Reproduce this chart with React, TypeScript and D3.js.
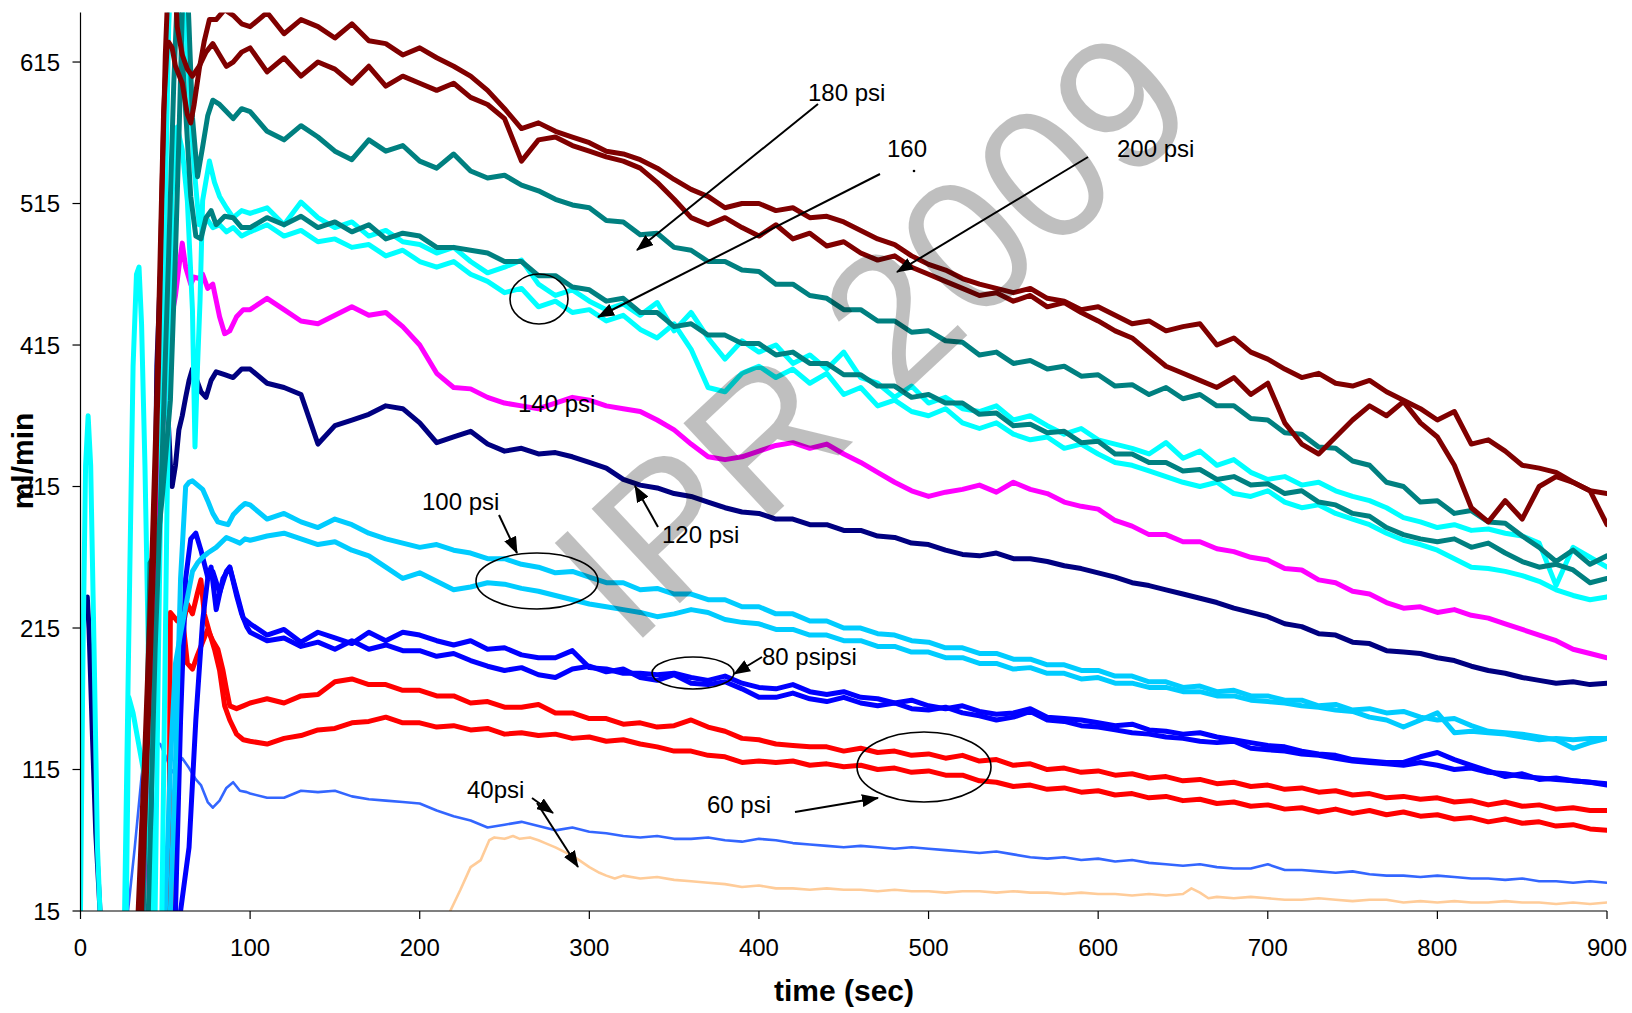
import React from "react";
import * as d3 from "d3";

const T0 = 100;
const STEP = 10;

const xTicks = [0, 100, 200, 300, 400, 500, 600, 700, 800, 900];
const yTicks = [15, 115, 215, 315, 415, 515, 615];

// ---- 200 psi (dark red) ----
const darkRedAEarly = [[32,-40],[34,15],[38,130],[42,260],[45,380],[47,480],[49,580],[51,625],[52,629],[54,625],[56,612],[60,600],[63,578],[65,572],[67,585],[70,610],[73,630],[76,645],[80,645],[85,652],[90,648],[95,642]];
const darkRedABody = [
  640,650,635,645,640,632,642,630,628,620,
  625,618,612,605,595,582,568,572,566,562,
  558,552,550,546,540,532,525,520,512,515,
  515,510,512,505,506,502,496,490,486,478,
  472,468,462,458,455,452,455,448,446,440,
  442,436,430,432,425,428,430,415,420,410,
  405,398,392,395,388,386,390,382,376,370,
  362,368,345,348,340,330,328,325,318,312,
  310];
const darkRedBEarly = [[34,-40],[36,15],[40,150],[43,260],[46,400],[48,520],[50,620],[52,680],[55,690],[57,640],[60,620],[63,610],[66,605],[70,612],[74,622],[78,628],[82,620],[86,612],[90,615],[95,622]];
const darkRedBBody = [
  625,608,618,605,615,610,600,612,598,605,
  600,595,600,590,585,575,545,560,562,556,
  552,548,545,540,530,518,505,500,505,498,
  492,500,490,494,485,488,480,475,478,470,
  465,460,455,450,452,446,450,442,445,438,
  432,425,420,410,400,395,390,385,392,380,
  388,360,345,338,350,362,372,365,375,360,
  350,330,300,290,305,292,315,322,318,312,
  288];

// ---- 180 psi (teal) ----
const tealAEarly = [[36,-40],[37,15],[41,261],[45,270],[48,305],[53,376],[56,480],[58,560],[60,650],[62,700],[64,640],[66,576],[69,534],[72,555],[75,577],[78,588],[82,585],[86,580],[90,575],[95,582]];
const tealABody = [
  580,566,560,570,562,552,546,560,552,556,
  545,540,550,538,533,535,528,524,518,514,
  512,503,502,493,494,484,482,474,474,468,
  467,458,458,450,448,440,440,432,432,424,
  425,418,417,408,410,402,404,398,400,393,
  394,386,387,380,385,377,380,372,372,363,
  362,353,352,343,342,333,330,318,315,304,
  305,296,298,290,289,280,272,262,270,260,
  266];
const tealBEarly = [[38,-40],[40,15],[44,200],[48,330],[52,480],[55,600],[57,660],[59,640],[62,580],[65,520],[68,492],[71,490],[74,505],[77,510],[80,500],[85,506],[90,505],[95,498]];
const tealBBody = [
  498,505,500,506,498,502,495,500,490,494,
  492,484,484,482,480,474,474,464,464,456,
  454,446,448,438,438,428,430,422,422,416,
  416,408,410,402,402,394,394,386,386,378,
  380,374,374,366,367,358,359,353,354,346,
  347,338,338,332,332,326,327,320,322,316,
  317,310,312,304,302,296,294,286,281,278,
  276,278,272,275,268,262,258,260,256,247,
  250];

// ---- 160 psi (cyan) ----
const cyanAEarly = [[0,15],[1.5,200],[3,330],[4.5,365],[6,330],[8,200],[10,60],[11.5,15],[13,-40],[24,-40],[26,15],[29,250],[31,400],[33,465],[34.5,470],[36,430],[38,330],[40,200],[42,60],[43,15],[44,-40],[46,-40],[48,15],[51,300],[54,520],[56,565],[57,569],[60,553],[63,517],[66,440],[67.5,343],[69,400],[70.5,447],[72,517],[76,545],[79,530],[82,520],[86,512],[90,505],[95,510]];
const cyanABody = [
  508,512,500,516,505,498,502,492,496,488,
  486,480,484,474,466,470,475,458,450,454,
  446,440,444,436,445,425,438,420,405,418,
  410,415,402,408,398,410,392,388,378,386,
  374,378,370,368,372,362,365,358,352,356,
  348,345,342,338,346,335,340,330,334,325,
  320,322,316,318,312,308,305,300,293,290,
  286,288,284,285,282,280,275,245,272,265,
  258];
const cyanBEarly = [[26,-40],[27,15],[28.5,166],[31,155],[34,135],[37,115],[39,90],[41,40],[42,15],[43,-40],[44,15],[46,200],[49,450],[52,640],[54,700],[58,700],[61,660],[64,600],[67,540],[70,500],[74,505],[78,498],[82,500],[86,495],[90,498],[95,492]];
const cyanBBody = [
  495,500,492,496,488,490,484,486,478,482,
  474,470,474,465,460,452,455,442,446,438,
  440,432,436,426,420,430,412,385,382,395,
  400,392,398,388,395,380,385,372,376,368,
  365,370,360,356,360,352,348,350,342,345,
  338,332,330,326,322,318,315,318,310,308,
  312,304,300,302,296,292,288,282,277,274,
  270,264,258,257,255,252,248,242,238,235,
  237];

// ---- 140 psi (magenta) ----
const magentaEarly = [[35,-40],[37,15],[41,150],[45,280],[49,370],[53,430],[56,450],[58,470],[60,487],[62,470],[65,458],[67,463],[70,462],[72,465],[75,455],[78,458],[82,435],[85,423],[88,425],[92,435],[96,440]];
const magentaBody = [
  440,448,440,432,430,436,442,436,438,428,
  415,395,385,384,378,374,372,370,374,378,
  376,372,370,368,362,355,345,336,334,336,
  340,344,346,342,345,338,332,325,318,312,
  308,311,313,316,311,318,313,310,304,301,
  299,291,287,281,281,276,276,271,269,265,
  263,257,256,249,247,241,239,233,229,230,
  226,228,224,222,218,214,210,206,200,197,
  194];

// ---- 120 psi (navy) ----
const navyEarly = [[4,237],[5,215],[7,140],[9,70],[11.5,15],[13,-40],[38,-40],[41,15],[43,200],[45,400],[47,463],[49,420],[51,380],[53,330],[54,315],[56,330],[58,355],[60,365],[62,378],[64,390],[66,398],[68,392],[71,382],[74,378],[77,390],[80,396],[85,394],[90,392],[95,398]];
const navyBody = [
  398,388,385,380,345,358,362,366,372,370,
  360,346,350,354,345,340,342,338,339,336,
  332,328,320,316,314,310,308,304,300,297,
  296,292,292,288,288,284,284,280,279,275,
  274,270,267,266,268,264,264,262,259,257,
  254,251,247,245,242,239,236,233,229,226,
  223,218,216,211,210,205,204,199,198,197,
  194,192,188,185,183,180,178,176,177,175,
  176];

// ---- 100 psi (sky blue) ----
const skyAEarly = [[50,-40],[53,15],[56,120],[59,250],[62,315],[64,318],[66,319],[69,316],[72,313],[75,305],[78,296],[81,290],[84,289],[87,288],[90,295],[94,300],[97,303]];
const skyABody = [
  302,292,296,290,286,292,288,282,278,275,
  272,274,270,268,264,264,260,258,254,255,
  251,247,247,242,243,239,239,235,235,230,
  230,225,225,220,220,215,215,211,210,206,
  205,201,201,197,197,193,193,189,189,185,
  185,181,181,177,177,173,174,170,171,167,
  167,164,164,160,161,157,158,155,156,152,
  150,151,146,142,141,140,138,136,130,134,
  137];
const skyBEarly = [[48,-40],[50,15],[53,120],[56,190],[59,211],[62,230],[66,255],[69,261],[72,265],[75,268],[80,272],[86,279],[90,277],[94,275],[97,278]];
const skyBBody = [
  277,280,282,278,274,276,270,266,258,250,
  254,248,242,244,247,246,243,241,238,235,
  232,230,228,226,223,225,228,226,221,219,
  218,214,214,210,210,206,206,202,202,198,
  198,194,194,190,190,186,187,183,183,179,
  180,176,176,173,173,170,170,167,167,164,
  163,162,160,159,157,156,152,150,145,150,
  155,141,142,141,140,138,136,137,136,137,
  137];

// ---- 80 psi (blue) ----
const blueAEarly = [[52,-40],[56,15],[59,150],[62,250],[65,278],[68,282],[71,270],[75,251],[77,258],[80,228],[84,250],[88,258],[92,240],[96,222]];
const blueABody = [
  218,210,214,205,212,208,204,212,206,212,
  210,206,203,206,200,201,196,194,194,199,
  187,186,183,183,182,183,180,178,181,176,
  173,172,175,170,168,170,166,165,162,164,
  160,158,160,156,154,155,158,152,151,150,
  148,146,147,143,142,140,141,138,136,134,
  132,131,128,126,125,122,121,120,120,124,
  127,122,118,114,110,112,108,109,107,106,
  105];
const blueBEarly = [[55,-40],[59,15],[64,60],[68,150],[72,220],[75,250],[78,255],[82,240],[86,255],[88,258],[92,238],[95,225],[98,216]];
const blueBBody = [
  212,206,208,202,205,200,206,200,203,199,
  199,195,197,192,188,185,187,182,180,186,
  188,184,186,180,178,182,176,175,177,172,
  166,166,169,165,163,166,162,160,162,158,
  157,159,155,153,150,152,156,150,149,146,
  145,143,141,140,138,137,135,134,135,130,
  129,128,126,125,123,121,120,119,118,120,
  118,115,116,113,112,110,109,108,107,106,
  104];

// ---- 60 psi (red) ----
const redAEarly = [[49,-40],[52,15],[53,226],[57,220],[60,224],[63,190],[66,186],[69,196],[72,205],[75,214],[78,206],[81,200],[84,185],[86,172],[88,160],[92,158],[96,160]];
const redABody = [
  162,165,162,167,168,177,179,175,175,171,
  171,167,167,162,163,159,159,161,155,155,
  151,151,147,148,145,146,150,145,142,137,
  136,133,132,131,131,128,130,127,128,125,
  126,123,125,121,122,118,119,115,116,113,
  114,111,112,109,110,107,108,105,106,103,
  104,101,102,99,100,97,98,95,96,94,
  95,92,93,90,92,89,90,87,88,86,
  86];
const redBEarly = [[50,-40],[55,15],[58,150],[61,220],[63,232],[66,225],[69,240],[71,249],[73,225],[76,212],[79,200],[82,185],[85,160],[88,150],[92,140],[96,136]];
const redBBody = [
  135,133,137,139,143,144,148,149,152,148,
  148,145,146,143,144,140,141,139,140,137,
  138,135,136,133,131,128,128,125,124,120,
  121,120,121,118,119,117,118,115,116,113,
  114,111,111,107,106,103,104,101,102,99,
  100,97,98,95,96,93,94,91,92,89,
  90,87,88,85,87,84,86,83,85,82,
  83,80,81,78,80,77,78,75,76,73,
  72];

// ---- 40 psi (thin lines) ----
const royalEarly = [[28,15],[32,60],[36,110],[39,138],[41,141],[44,134],[47,133],[50,125],[54,113],[57,118],[60,123],[64,116],[68,108],[71,104],[75,92],[78,88],[82,93],[86,102],[90,106],[94,100],[98,99]];
const royalBody = [
  98,95,95,100,99,100,96,94,93,92,
  91,86,82,79,74,76,78,75,72,74,
  71,70,68,67,68,66,66,67,65,64,
  66,65,63,62,61,60,61,60,59,60,
  59,58,57,56,57,55,53,52,53,51,
  52,50,51,49,48,47,48,46,45,45,
  48,44,44,43,42,43,41,40,40,39,
  40,39,38,38,37,38,36,36,35,36,
  35];
const peachPoints = [[218,15],[224,30],[230,46],[236,51],[241,65],[244,67],[250,66],[255,68],[259,66],[265,67],[270,65],[274,63],[280,60],[285,57],[290,54],[294,51],[300,46],[306,42],[310,40],[315,38],[320,40],[330,38],[340,39],[350,37],[360,36],[370,35],[380,34],[390,32],[400,33],[410,31],[420,31],[430,30],[440,31],[450,30],[460,30],[470,29],[480,30],[490,29],[500,29],[510,28],[520,29],[530,29],[540,28],[550,29],[560,28],[570,28],[580,27],[590,28],[600,27],[610,27],[620,26],[630,27],[640,26],[650,27],[655,31],[660,28],[665,24],[670,25],[680,24],[690,25],[700,24],[710,23],[720,23],[730,24],[740,23],[750,22],[760,23],[770,23],[780,21],[790,22],[800,21],[810,22],[820,21],[830,21],[840,22],[850,21],[860,21],[870,20],[880,21],[890,20],[900,21]];

const W = 1632;
const H = 1013;
const PL = 80.5, PR = 1607, PT = 12.5, PB = 911;
const FONT = "'Liberation Sans', Arial, Helvetica, sans-serif";

function build(early: number[][], body: number[]): [number, number][] {
  const a: [number, number][] = early.map((p) => [p[0], p[1]] as [number, number]);
  body.forEach((v, i) => a.push([T0 + i * STEP, v]));
  return a;
}

export default function App() {
  const x = d3.scaleLinear().domain([0, 900]).range([PL, PR]);
  const y = d3.scaleLinear().domain([15, 650]).range([PB, PT]);
  const line = d3
    .line<[number, number]>()
    .x((d) => x(d[0]))
    .y((d) => y(d[1]));

  const TW = 5;
  const series = [
    { k: "peach", c: "#FFCC99", w: 2.6, p: peachPoints.map((q) => [q[0], q[1]] as [number, number]) },
    { k: "royal", c: "#3366FF", w: 2.6, p: build(royalEarly, royalBody) },
    { k: "redA", c: "#FF0000", w: TW, p: build(redAEarly, redABody) },
    { k: "redB", c: "#FF0000", w: TW, p: build(redBEarly, redBBody) },
    { k: "blueA", c: "#0000FF", w: TW, p: build(blueAEarly, blueABody) },
    { k: "blueB", c: "#0000FF", w: TW, p: build(blueBEarly, blueBBody) },
    { k: "skyA", c: "#00CCFF", w: TW, p: build(skyAEarly, skyABody) },
    { k: "skyB", c: "#00CCFF", w: TW, p: build(skyBEarly, skyBBody) },
    { k: "navy", c: "#000080", w: TW, p: build(navyEarly, navyBody) },
    { k: "mag", c: "#FF00FF", w: TW, p: build(magentaEarly, magentaBody) },
    { k: "cyanA", c: "#00FFFF", w: TW, p: build(cyanAEarly, cyanABody) },
    { k: "cyanB", c: "#00FFFF", w: TW, p: build(cyanBEarly, cyanBBody) },
    { k: "tealB", c: "#008080", w: TW, p: build(tealBEarly, tealBBody) },
    { k: "tealA", c: "#008080", w: TW, p: build(tealAEarly, tealABody) },
    { k: "drB", c: "#800000", w: TW, p: build(darkRedBEarly, darkRedBBody) },
    { k: "drA", c: "#800000", w: TW, p: build(darkRedAEarly, darkRedABody) },
  ];

  const labels = [
    { t: "180 psi", x: 808, y: 101 },
    { t: "160", x: 887, y: 157 },
    { t: "200 psi", x: 1117, y: 157 },
    { t: "140 psi", x: 518, y: 412 },
    { t: "120 psi", x: 662, y: 543 },
    { t: "100 psi", x: 422, y: 510 },
    { t: "80 psipsi", x: 762, y: 665 },
    { t: "60 psi", x: 707, y: 813 },
    { t: "40psi", x: 467, y: 798 },
  ];
  const arrows = [
    [818, 104, 637, 250],
    [880, 174, 598, 317],
    [1088, 157, 897, 272],
    [658, 527, 635, 486],
    [499, 515, 517, 553],
    [762, 657, 734, 674],
    [795, 812, 878, 798],
    [532, 798, 553, 813],
    [537, 803, 578, 867],
  ];
  const ellipses = [
    [539, 299, 29, 25],
    [537, 581, 61, 28],
    [693, 673, 41, 16],
    [924, 767, 67, 35],
  ];

  return (
    <svg
      width={W}
      height={H}
      style={{ position: "absolute", left: 0, top: 0, background: "#fff" }}
    >
      <defs>
        <clipPath id="plot">
          <rect x={PL} y={PT} width={PR - PL} height={PB - PT} />
        </clipPath>
        <marker
          id="ah"
          markerUnits="userSpaceOnUse"
          markerWidth={17}
          markerHeight={13}
          refX={16}
          refY={6.5}
          orient="auto"
        >
          <path d="M0,0 L17,6.5 L0,13 Z" fill="#000" />
        </marker>
      </defs>
      <rect x={0} y={0} width={W} height={H} fill="#fff" />

      <g clipPath="url(#plot)">
        {series.map((s) => (
          <path
            key={s.k}
            d={line(s.p) || ""}
            fill="none"
            stroke={s.c}
            strokeWidth={s.w}
            strokeLinejoin="round"
            strokeLinecap="round"
          />
        ))}
      </g>

      {/* axes */}
      <line x1={PL} x2={PL} y1={PT} y2={PB} stroke="#000" strokeWidth={1.2} />
      <line x1={PL} x2={PR} y1={PB} y2={PB} stroke="#000" strokeWidth={1.2} />
      {yTicks.map((t) => (
        <g key={"y" + t}>
          <line x1={PL - 8} x2={PL} y1={y(t)} y2={y(t)} stroke="#000" strokeWidth={1.2} />
          <text
            x={60}
            y={y(t) + 8.5}
            textAnchor="end"
            fontFamily={FONT}
            fontSize={24}
            fill="#000"
          >
            {t}
          </text>
        </g>
      ))}
      {xTicks.map((t) => (
        <g key={"x" + t}>
          <line x1={x(t)} x2={x(t)} y1={PB} y2={PB + 8} stroke="#000" strokeWidth={1.2} />
          <text
            x={x(t)}
            y={956}
            textAnchor="middle"
            fontFamily={FONT}
            fontSize={24}
            fill="#000"
          >
            {t}
          </text>
        </g>
      ))}
      <text
        x={844}
        y={1001}
        textAnchor="middle"
        fontFamily={FONT}
        fontSize={30}
        fontWeight="bold"
        fill="#000"
      >
        time (sec)
      </text>
      <text
        transform="translate(33,461) rotate(-90)"
        textAnchor="middle"
        fontFamily={FONT}
        fontSize={30}
        fontWeight="bold"
        fill="#000"
      >
        ml/min
      </text>

      {/* annotations */}
      {ellipses.map((e, i) => (
        <ellipse
          key={"e" + i}
          cx={e[0]}
          cy={e[1]}
          rx={e[2]}
          ry={e[3]}
          fill="none"
          stroke="#000"
          strokeWidth={1.6}
        />
      ))}
      {arrows.map((a, i) => (
        <line
          key={"a" + i}
          x1={a[0]}
          y1={a[1]}
          x2={a[2]}
          y2={a[3]}
          stroke="#000"
          strokeWidth={2}
          markerEnd="url(#ah)"
        />
      ))}
      <circle cx={914} cy={171} r={1.3} fill="#000" />
      {labels.map((l) => (
        <text
          key={l.t}
          x={l.x}
          y={l.y}
          fontFamily={FONT}
          fontSize={24}
          fill="#000"
        >
          {l.t}
        </text>
      ))}

      {/* watermark */}
      <text
        transform="translate(872,334) rotate(-43)"
        textAnchor="middle"
        dy="0.35em"
        fontFamily={FONT}
        fontSize={188}
        fill="#000"
        fillOpacity={0.25}
      >
        IPR 2009
      </text>
    </svg>
  );
}
